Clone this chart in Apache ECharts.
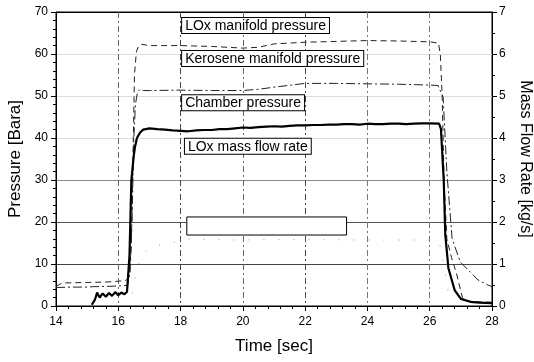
<!DOCTYPE html>
<html>
<head>
<meta charset="utf-8">
<script src="https://cdn.jsdelivr.net/npm/echarts@6/dist/echarts.min.js"></script>
<style>html,body{margin:0;padding:0;background:#fff}#c{width:534px;height:362px}</style>
</head>
<body>
<div id="c"></div>
<script>
// ---- data ----
const xTicks = [14, 16, 18, 20, 22, 24, 26, 28];
const pTicks = [0, 10, 20, 30, 40, 50, 60, 70];
const mTicks = [0, 1, 2, 3, 4, 5, 6, 7];

// LOx manifold pressure (dashed), Bara
const loxManT = [14, 14.15, 14.3, 15, 15.6, 16.0, 16.25, 16.35, 16.42, 16.47, 16.52, 16.58, 16.65, 16.75, 17, 18, 19, 19.5, 20, 20.5, 21, 22, 23, 24, 25, 26, 26.28, 26.34, 26.4, 26.46, 26.55, 26.7, 26.85, 26.95, 27.05, 27.2, 27.5, 28];
const loxManP = [4.7, 5.3, 5.5, 5.6, 5.7, 5.9, 6.1, 7, 15, 35, 55, 60.5, 61.9, 62.3, 62.0, 62.0, 61.8, 61.6, 61.4, 61.6, 62.4, 62.8, 63.0, 63.2, 63.1, 62.9, 62.6, 60, 50, 30, 16, 11.5, 8, 5, 2, 1.2, 1, 0.9];

// Kerosene manifold pressure (dash-dot), Bara
const keroManT = [14, 14.5, 15, 15.2, 15.8, 16.3, 16.38, 16.44, 16.5, 16.55, 16.62, 16.7, 16.8, 17, 18, 19, 20, 20.5, 21, 22, 23, 24, 25, 26, 26.27, 26.35, 26.43, 26.55, 26.72, 26.98, 27.3, 27.55, 27.87, 28];
const keroManP = [4.4, 4.5, 4.5, 4.6, 4.7, 4.9, 8, 20, 40, 48, 51.0, 51.6, 51.3, 51.3, 51.4, 51.3, 51.3, 51.6, 52.1, 53.0, 53.0, 52.9, 52.8, 52.6, 52.5, 51, 49.8, 32, 16, 10.5, 8.1, 6.2, 5, 4.6];

// Chamber pressure (thick solid), Bara
const chamberT = [15.15, 15.25, 15.32, 15.4, 15.5, 15.6, 15.7, 15.8, 15.9, 16.0, 16.1, 16.2, 16.28, 16.36, 16.42, 16.5, 16.54, 16.6, 16.7, 16.8, 17, 17.25, 17.5, 17.75, 18, 18.25, 18.5, 18.75, 19, 19.25, 19.5, 19.75, 20, 20.25, 20.5, 20.75, 21, 21.25, 21.5, 21.75, 22, 22.25, 22.5, 22.75, 23, 23.25, 23.5, 23.75, 24, 24.25, 24.5, 24.75, 25, 25.25, 25.5, 25.75, 26, 26.3, 26.36, 26.42, 26.45, 26.5, 26.6, 26.8, 27.0, 27.3, 27.6, 28];
const chamberP = [0.3, 1.5, 3.2, 2.0, 3.0, 2.2, 3.1, 2.4, 3.3, 2.6, 3.2, 2.8, 3.4, 12, 30, 36, 38, 40.0, 41.3, 42.0, 42.3, 42.1, 42.0, 41.8, 41.7, 41.6, 41.8, 41.9, 41.9, 42.1, 42.1, 42.3, 42.5, 42.4, 42.6, 42.7, 42.8, 42.7, 42.9, 43.0, 43.0, 43.1, 43.1, 43.2, 43.2, 43.3, 43.3, 43.2, 43.4, 43.3, 43.3, 43.4, 43.4, 43.3, 43.4, 43.5, 43.5, 43.4, 42.2, 41.8, 30, 17, 9, 3.8, 1.7, 1.0, 0.8, 0.7];

// faint mass flow trace (dotted), kg/s
const flowT = [16.45, 16.6, 16.8, 17.0, 17.3, 17.8, 18.3, 19.6, 21, 22.5, 24, 25.1, 25.9, 26.3, 26.45, 26.6];
const flowM = [0.3, 0.9, 1.25, 1.38, 1.45, 1.52, 1.6, 1.57, 1.58, 1.58, 1.57, 1.57, 1.57, 1.55, 1.0, 0.3];

// text boxes: label, left x (sec), top y (Bara)
const boxLabels = ['LOx manifold pressure', 'Kerosene manifold pressure', 'Chamber pressure', 'LOx mass flow rate'];
const boxX = [18.05, 18.05, 18.05, 18.14];
const boxY = [68.6, 60.7, 50.2, 39.8];
// empty box corners (sec, Bara)
const emptyBox = [18.2, 21.2, 23.33, 16.9];

const zip = (a, b) => a.map((v, i) => [v, b[i]]);
const FONT = '"Liberation Sans", Arial, sans-serif';

const chart = echarts.init(document.getElementById('c'), null, {renderer: 'canvas'});
const axCommon = {
  axisLine: {show: true, lineStyle: {color: '#000', width: 1}},
  axisTick: {show: true, inside: false, length: 5, lineStyle: {color: '#000'}},
  minorTick: {show: true, length: 3, lineStyle: {color: '#000'}},
  axisLabel: {color: '#000', fontSize: 12, fontFamily: FONT},
  nameTextStyle: {color: '#000', fontSize: 17, fontFamily: FONT},
  nameLocation: 'middle'
};
chart.setOption({
  animation: false,
  backgroundColor: '#fff',
  grid: {left: 56, right: 42, top: 12, bottom: 56, containLabel: false, outerBoundsMode: 'none',
    show: true, borderColor: '#000', borderWidth: 1, backgroundColor: 'transparent'},
  xAxis: Object.assign({}, axCommon, {
    type: 'value', min: xTicks[0], max: xTicks[xTicks.length - 1], interval: 2,
    name: 'Time [sec]', nameGap: 32,
    minorTick: {show: true, splitNumber: 5, length: 3, lineStyle: {color: '#000'}},
    axisLabel: {color: '#000', fontSize: 12, fontFamily: FONT, margin: 10},
    splitLine: {show: true, lineStyle: {color: ['#000', '#666', '#444', '#666', '#444', '#777', '#777', '#000'], type: [6, 3, 2, 3], width: 1}}
  }),
  yAxis: [
    Object.assign({}, axCommon, {
      type: 'value', min: pTicks[0], max: pTicks[pTicks.length - 1], interval: 10,
      name: 'Pressure [Bara]', nameGap: 31,
      minorTick: {show: true, splitNumber: 5, length: 3, lineStyle: {color: '#000'}},
      axisLabel: {color: '#000', fontSize: 12, fontFamily: FONT, margin: 8},
      splitLine: {show: true, lineStyle: {color: ['#000', '#444', '#555', '#888', '#ddd', '#ddd', '#ddd', '#000'], width: 1}}
    }),
    Object.assign({}, axCommon, {
      type: 'value', min: mTicks[0], max: mTicks[mTicks.length - 1], interval: 1, position: 'right',
      name: 'Mass Flow Rate [kg/s]', nameGap: 25, nameRotate: -90,
      nameTextStyle: {color: '#000', fontSize: 16, fontFamily: FONT},
      minorTick: {show: true, splitNumber: 2, length: 3, lineStyle: {color: '#000'}},
      axisLabel: {color: '#000', fontSize: 12, fontFamily: FONT, margin: 7},
      splitLine: {show: false}
    })
  ],
  series: [
    {name: 'LOx manifold pressure', type: 'line', yAxisIndex: 0, data: zip(loxManT, loxManP), showSymbol: false, symbol: 'none',
      lineStyle: {color: '#222', width: 1, type: [6, 4]}},
    {name: 'Kerosene manifold pressure', type: 'line', yAxisIndex: 0, data: zip(keroManT, keroManP), showSymbol: false, symbol: 'none',
      lineStyle: {color: '#222', width: 1, type: [9, 3, 2, 3]}},
    {name: 'Chamber pressure', type: 'line', yAxisIndex: 0, data: zip(chamberT, chamberP), showSymbol: false, symbol: 'none',
      lineStyle: {color: '#000', width: 2.2}},
    {name: 'LOx mass flow rate', type: 'line', yAxisIndex: 1, data: zip(flowT, flowM), showSymbol: false, symbol: 'none',
      lineStyle: {color: '#999', width: 1, type: [1, 14]}}
  ]
});

// annotation boxes placed through the grid's coordinate system
const g = [];
boxLabels.forEach((t, i) => {
  const p = chart.convertToPixel({gridIndex: 0}, [boxX[i], boxY[i]]);
  g.push({type: 'text', z: 100, x: p[0], y: p[1],
    style: {text: t, font: '14px ' + FONT, fill: '#000', backgroundColor: '#fff', borderColor: '#000', borderWidth: 1, padding: [1, 3, 0, 3]}});
});
const a = chart.convertToPixel({gridIndex: 0}, [emptyBox[0], emptyBox[1]]);
const b = chart.convertToPixel({gridIndex: 0}, [emptyBox[2], emptyBox[3]]);
g.push({type: 'rect', z: 100, shape: {x: a[0], y: a[1], width: b[0] - a[0], height: b[1] - a[1]},
  style: {fill: '#fff', stroke: '#000', lineWidth: 1}});
chart.setOption({graphic: g});
</script>
</body>
</html>
